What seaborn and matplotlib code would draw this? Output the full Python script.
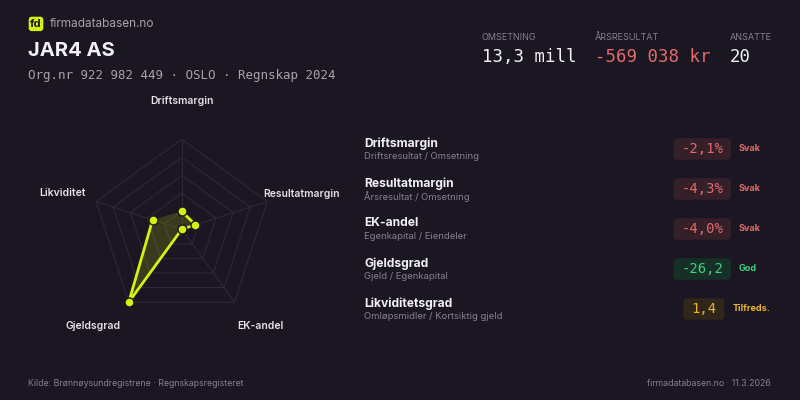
import numpy as np
import pandas as pd
import seaborn as sns
from matplotlib import pyplot as plt
from matplotlib.patches import FancyBboxPatch
from matplotlib.transforms import Affine2D

# ---- data ----
company = "JAR4 AS"
org_line = "Org.nr 922 982 449 · OSLO · Regnskap 2024"

key_labels = ["OMSETNING", "ÅRSRESULTAT", "ANSATTE"]
key_values = ["13,3 mill", "-569 038 kr", "20"]
key_kinds = ["neutral", "negative", "neutral"]

radar_axes = ["Driftsmargin", "Resultatmargin", "EK-andel", "Gjeldsgrad", "Likviditet"]
radar_scores = [0.20, 0.16, 0.0, 1.0, 0.34]

metric_names = ["Driftsmargin", "Resultatmargin", "EK-andel", "Gjeldsgrad", "Likviditetsgrad"]
metric_formulas = [
    "Driftsresultat / Omsetning",
    "Årsresultat / Omsetning",
    "Egenkapital / Eiendeler",
    "Gjeld / Egenkapital",
    "Omløpsmidler / Kortsiktig gjeld",
]
metric_values = ["-2,1%", "-4,3%", "-4,0%", "-26,2", "1,4"]
metric_ratings = ["Svak", "Svak", "Svak", "God", "Tilfreds."]

source_text = "Kilde: Brønnøysundregistrene · Regnskapsregisteret"
stamp_text = "firmadatabasen.no · 11.3.2026"

# ---- style ----
BG = "#1b1722"
LIME = "#d2f20f"
RING = "#2c2834"
WHITE = "#f2f0f5"
GREY = "#a7a3ad"
DIM = "#85818c"
RED = "#e56a6a"
rating_style = {
    "Svak": ("#e56a6a", "#35202a"),
    "God": ("#3fd07c", "#163028"),
    "Tilfreds.": ("#eab52c", "#30261c"),
}
SANS = ["Inter", "DejaVu Sans"]
MONO = ["DejaVu Sans Mono"]

sns.set_theme(style="dark", rc={"figure.facecolor": BG, "axes.facecolor": BG})
plt.rcParams["font.family"] = SANS

fig = plt.figure(figsize=(8, 4), dpi=100)
# pixel coordinates, origin top-left
PX = Affine2D().scale(0.01, -0.01).translate(0, 4) + fig.dpi_scale_trans


def put(x, y, s, **kw):
    kw.setdefault("va", "center")
    return fig.text(x, y, s, transform=PX, **kw)


# ---- header ----
fig.patches.append(FancyBboxPatch((28.7, 16.7), 14.6, 14.4, boxstyle="round,pad=0,rounding_size=3",
                                  transform=PX, facecolor=LIME, edgecolor="none"))
put(36, 24, "fd", ha="center", fontsize=8, fontweight="bold", color=BG)
put(50, 24, "firmadatabasen.no", fontsize=8.5, color=GREY)
put(28.5, 50.5, company, fontsize=14.5, fontweight="bold", color=WHITE)
put(28.5, 76, org_line, fontsize=9, color=GREY, family=MONO)

for x, lab, val, kind in zip([481.5, 595, 730], key_labels, key_values, key_kinds):
    put(x, 37.5, lab, fontsize=6.5, color=DIM)
    put(x, 57.5, val, fontsize=12.5, family=MONO, color=RED if kind == "negative" else WHITE)

# ---- radar ----
cx, cy, R = 181.7, 229.3, 90
ax = fig.add_axes([(cx - R) / 800, (400 - cy - R) / 400, 2 * R / 800, 2 * R / 400], projection="polar")
ax.set_facecolor("none")
ax.set_theta_zero_location("N")
ax.set_theta_direction(-1)
ax.set_ylim(0, 1)
ax.grid(False)
ax.set_xticks([])
ax.set_yticks([])
ax.spines["polar"].set_visible(False)

theta = np.linspace(0, 2 * np.pi, len(radar_axes), endpoint=False)
for k in range(1, 6):
    ax.plot(np.append(theta, theta[0]), [k / 5] * (len(theta) + 1), color=RING, lw=0.8, zorder=1)
for t in theta:
    ax.plot([t, t], [0, 1], color=RING, lw=0.8, zorder=1)

df = pd.DataFrame({"theta": np.append(theta, theta[0]),
                   "score": radar_scores + radar_scores[:1]})
ax.fill(df["theta"], df["score"], color=LIME, alpha=0.17, lw=0, zorder=2)
sns.lineplot(data=df, x="theta", y="score", sort=False, ax=ax, color=LIME, lw=2.0,
             zorder=3, clip_on=False)
sns.scatterplot(data=df.iloc[:-1], x="theta", y="score", ax=ax, color=LIME, s=42,
                edgecolor=BG, linewidth=1, zorder=4, clip_on=False)
ax.set_xlabel("")
ax.set_ylabel("")

label_pos = [(181.7, 101.5), (301, 194), (260, 326), (92.7, 326), (63, 193.5)]
for (x, y), lab in zip(label_pos, radar_axes):
    put(x, y, lab, ha="center", fontsize=7.5, fontweight="semibold", color="#e4e1e8")

# ---- metric rows ----
renderer = fig.canvas.get_renderer()
for i, (name, formula, val, rating) in enumerate(zip(metric_names, metric_formulas,
                                                         metric_values, metric_ratings)):
    y0 = 149 + 40 * i
    put(364.3, y0 - 5.5, name, fontsize=8.7, fontweight="bold", color=WHITE)
    put(364.3, y0 + 7.5, formula, fontsize=6.8, color=DIM)
    fg, bg = rating_style[rating]
    rt = put(0, y0 - 0.5, rating, fontsize=6.5, fontweight="bold", color=fg)
    rw = rt.get_window_extent(renderer).width
    lx = 770 - max(rw, 31)
    rt.set_x(lx)
    bw = len(val) * 8.3 + 16
    bx = lx - 8 - bw
    fig.patches.append(FancyBboxPatch((bx, y0 - 10.7), bw, 21.4, boxstyle="round,pad=0,rounding_size=4",
                                      transform=PX, facecolor=bg, edgecolor="none"))
    put(bx + bw / 2, y0, val, ha="center", fontsize=10, family=MONO, color=fg)

# ---- footer ----
put(28, 383, source_text, fontsize=6.3, color=DIM)
put(771, 383, stamp_text, ha="right", fontsize=6.3, color=DIM)

fig.savefig("out.png", dpi=100, facecolor=BG)
